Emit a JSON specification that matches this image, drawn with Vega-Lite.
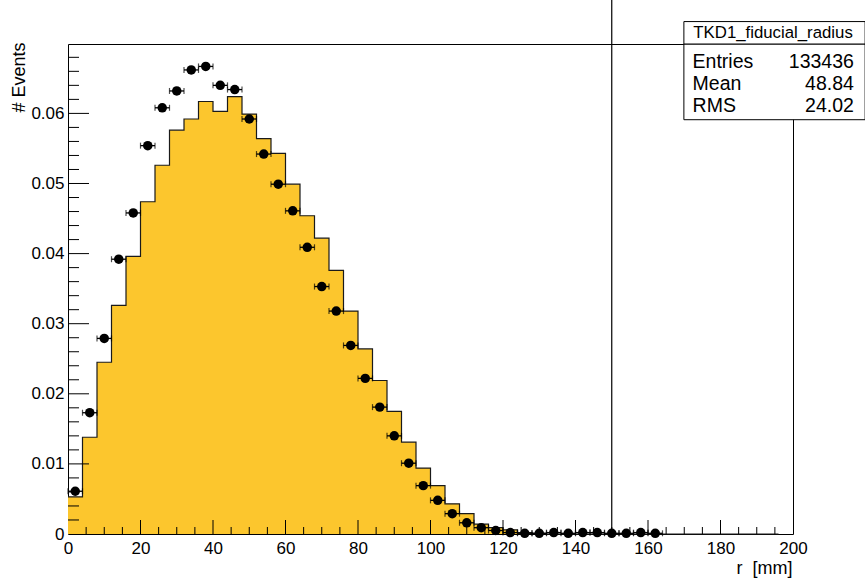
{
  "$schema": "https://vega.github.io/schema/vega-lite/v6.json",
  "width": 725,
  "height": 490,
  "autosize": {"type": "none"},
  "padding": {"left": 68, "top": 44, "right": 72, "bottom": 44},
  "background": "white",
  "config": {"view": {"stroke": "black", "strokeWidth": 1}, "font": "Liberation Sans"},
  "data": {"values": [
    {"lo": 0, "hi": 4, "r": 2, "mc": 0.0053, "data": 0.0061},
    {"lo": 4, "hi": 8, "r": 6, "mc": 0.0138, "data": 0.0173},
    {"lo": 8, "hi": 12, "r": 10, "mc": 0.0245, "data": 0.0279},
    {"lo": 12, "hi": 16, "r": 14, "mc": 0.0326, "data": 0.0392},
    {"lo": 16, "hi": 20, "r": 18, "mc": 0.0396, "data": 0.0458},
    {"lo": 20, "hi": 24, "r": 22, "mc": 0.0474, "data": 0.0554},
    {"lo": 24, "hi": 28, "r": 26, "mc": 0.0526, "data": 0.0608},
    {"lo": 28, "hi": 32, "r": 30, "mc": 0.0576, "data": 0.0632},
    {"lo": 32, "hi": 36, "r": 34, "mc": 0.0592, "data": 0.0662},
    {"lo": 36, "hi": 40, "r": 38, "mc": 0.0617, "data": 0.0667},
    {"lo": 40, "hi": 44, "r": 42, "mc": 0.0603, "data": 0.0640},
    {"lo": 44, "hi": 48, "r": 46, "mc": 0.0624, "data": 0.0634},
    {"lo": 48, "hi": 52, "r": 50, "mc": 0.0599, "data": 0.0592},
    {"lo": 52, "hi": 56, "r": 54, "mc": 0.0564, "data": 0.0542},
    {"lo": 56, "hi": 60, "r": 58, "mc": 0.0543, "data": 0.0499},
    {"lo": 60, "hi": 64, "r": 62, "mc": 0.0499, "data": 0.0461},
    {"lo": 64, "hi": 68, "r": 66, "mc": 0.0454, "data": 0.0409},
    {"lo": 68, "hi": 72, "r": 70, "mc": 0.0422, "data": 0.0353},
    {"lo": 72, "hi": 76, "r": 74, "mc": 0.0376, "data": 0.0318},
    {"lo": 76, "hi": 80, "r": 78, "mc": 0.0318, "data": 0.0269},
    {"lo": 80, "hi": 84, "r": 82, "mc": 0.0264, "data": 0.0222},
    {"lo": 84, "hi": 88, "r": 86, "mc": 0.0219, "data": 0.0181},
    {"lo": 88, "hi": 92, "r": 90, "mc": 0.0175, "data": 0.0140},
    {"lo": 92, "hi": 96, "r": 94, "mc": 0.0131, "data": 0.0101},
    {"lo": 96, "hi": 100, "r": 98, "mc": 0.0094, "data": 0.0069},
    {"lo": 100, "hi": 104, "r": 102, "mc": 0.0069, "data": 0.0048},
    {"lo": 104, "hi": 108, "r": 106, "mc": 0.0043, "data": 0.0029},
    {"lo": 108, "hi": 112, "r": 110, "mc": 0.0029, "data": 0.0016},
    {"lo": 112, "hi": 116, "r": 114, "mc": 0.0014, "data": 0.0009},
    {"lo": 116, "hi": 120, "r": 118, "mc": 0.0009, "data": 0.0005},
    {"lo": 120, "hi": 124, "r": 122, "mc": 0.0006, "data": 0.0002},
    {"lo": 124, "hi": 128, "r": 126, "mc": 0.0002, "data": 0.0001},
    {"lo": 128, "hi": 132, "r": 130, "mc": 0.0001, "data": 0.0001},
    {"lo": 132, "hi": 136, "r": 134, "mc": 0, "data": 0.0002},
    {"lo": 136, "hi": 140, "r": 138, "mc": 0, "data": 0.0001},
    {"lo": 140, "hi": 144, "r": 142, "mc": 0, "data": 0.0002},
    {"lo": 144, "hi": 148, "r": 146, "mc": 0, "data": 0.0002},
    {"lo": 148, "hi": 152, "r": 150, "mc": 0, "data": 0.0001},
    {"lo": 152, "hi": 156, "r": 154, "mc": 0, "data": 0.0001},
    {"lo": 156, "hi": 160, "r": 158, "mc": 0, "data": 0.0002},
    {"lo": 160, "hi": 164, "r": 162, "mc": 0, "data": 0.0001},
    {"lo": 164, "hi": 168, "r": 166, "mc": 0, "data": null},
    {"lo": 168, "hi": 172, "r": 170, "mc": 0, "data": null},
    {"lo": 172, "hi": 176, "r": 174, "mc": 0, "data": null},
    {"lo": 176, "hi": 180, "r": 178, "mc": 0, "data": null},
    {"lo": 180, "hi": 184, "r": 182, "mc": 0, "data": null},
    {"lo": 184, "hi": 188, "r": 186, "mc": 0, "data": null},
    {"lo": 188, "hi": 192, "r": 190, "mc": 0, "data": null},
    {"lo": 192, "hi": 196, "r": 194, "mc": 0, "data": null},
    {"lo": 196, "hi": 200, "r": 198, "mc": 0, "data": null}
  ]},
  "layer": [
    {
      "mark": {"type": "area", "interpolate": "step-after", "color": "#fcc62d", "opacity": 1},
      "encoding": {
        "x": {"field": "lo", "type": "quantitative",
              "scale": {"domain": [0, 200], "nice": false, "zero": false},
              "axis": {"orient": "bottom", "values": [0, 20, 40, 60, 80, 100, 120, 140, 160, 180, 200], "format": "d",
                       "domain": false, "ticks": false, "grid": false,
                       "labelPadding": 6, "labelFontSize": 17, "labelColor": "black", "labelFont": "Liberation Sans",
                       "labelFlush": false, "labelOverlap": false,
                       "title": "r\u00a0\u00a0[mm]", "titleFontSize": 18, "titleFontWeight": "normal", "titleColor": "black",
                       "titleFont": "Liberation Sans", "titleAnchor": "end", "titleX": 724, "titleY": 34,
                       "titleAlign": "right", "titleBaseline": "middle"}},
        "y": {"field": "mc", "type": "quantitative",
              "scale": {"domain": [0, 0.0699], "nice": false, "zero": true},
              "axis": {"orient": "left", "values": [0, 0.01, 0.02, 0.03, 0.04, 0.05, 0.06], "format": "~g",
                       "domain": false, "ticks": false, "grid": false,
                       "labelPadding": 4, "labelFontSize": 17, "labelColor": "black", "labelFont": "Liberation Sans",
                       "labelFlush": false, "labelOverlap": false,
                       "title": "# Events", "titleFontSize": 18, "titleFontWeight": "normal", "titleColor": "black",
                       "titleFont": "Liberation Sans", "titleAnchor": "end", "titleAngle": 270, "titleX": -49, "titleY": -2,
                       "titleAlign": "right", "titleBaseline": "middle"}}
      }
    },
    {
      "mark": {"type": "line", "interpolate": "step-after", "color": "#1a1a1a", "strokeWidth": 1.2},
      "encoding": {
        "x": {"field": "lo", "type": "quantitative", "axis": null},
        "y": {"field": "mc", "type": "quantitative", "axis": null}
      }
    },
    {
      "data": {"values": [{"t": 0.01}, {"t": 0.02}, {"t": 0.03}, {"t": 0.04}, {"t": 0.05}, {"t": 0.06}]},
      "mark": {"type": "rule", "color": "black", "strokeWidth": 1, "strokeDash": [21, 704], "strokeDashOffset": 21},
      "encoding": {
        "y": {"field": "t", "type": "quantitative", "axis": null}
      }
    },
    {
      "data": {"values": [{"t": 0.002}, {"t": 0.004}, {"t": 0.006}, {"t": 0.008}, {"t": 0.012}, {"t": 0.014}, {"t": 0.016}, {"t": 0.018}, {"t": 0.022}, {"t": 0.024}, {"t": 0.026}, {"t": 0.028}, {"t": 0.032}, {"t": 0.034}, {"t": 0.036}, {"t": 0.038}, {"t": 0.042}, {"t": 0.044}, {"t": 0.046}, {"t": 0.048}, {"t": 0.052}, {"t": 0.054}, {"t": 0.056}, {"t": 0.058}, {"t": 0.062}, {"t": 0.064}, {"t": 0.066}, {"t": 0.068}]},
      "mark": {"type": "rule", "color": "black", "strokeWidth": 1, "strokeDash": [11, 714], "strokeDashOffset": 11},
      "encoding": {
        "y": {"field": "t", "type": "quantitative", "axis": null}
      }
    },
    {
      "data": {"values": [{"t": 20}, {"t": 40}, {"t": 60}, {"t": 80}, {"t": 100}, {"t": 120}, {"t": 140}, {"t": 160}, {"t": 180}]},
      "mark": {"type": "rule", "color": "black", "strokeWidth": 1, "strokeDash": [14, 476], "strokeDashOffset": 14},
      "encoding": {
        "x": {"field": "t", "type": "quantitative", "axis": null}
      }
    },
    {
      "data": {"values": [{"t": 5}, {"t": 10}, {"t": 15}, {"t": 25}, {"t": 30}, {"t": 35}, {"t": 45}, {"t": 50}, {"t": 55}, {"t": 65}, {"t": 70}, {"t": 75}, {"t": 85}, {"t": 90}, {"t": 95}, {"t": 105}, {"t": 110}, {"t": 115}, {"t": 125}, {"t": 130}, {"t": 135}, {"t": 145}, {"t": 150}, {"t": 155}, {"t": 165}, {"t": 170}, {"t": 175}, {"t": 185}, {"t": 190}, {"t": 195}]},
      "mark": {"type": "rule", "color": "black", "strokeWidth": 1, "strokeDash": [7, 483], "strokeDashOffset": 7},
      "encoding": {
        "x": {"field": "t", "type": "quantitative", "axis": null}
      }
    },
    {
      "mark": {"type": "rule", "color": "black", "strokeWidth": 1.3},
      "encoding": {
        "x": {"field": "lo", "type": "quantitative", "axis": null},
        "x2": {"field": "hi"},
        "y": {"field": "data", "type": "quantitative", "axis": null}
      }
    },
    {
      "mark": {"type": "tick", "orient": "vertical", "color": "black", "size": 6, "thickness": 1.2},
      "encoding": {
        "x": {"field": "lo", "type": "quantitative", "axis": null},
        "y": {"field": "data", "type": "quantitative", "axis": null}
      }
    },
    {
      "mark": {"type": "tick", "orient": "vertical", "color": "black", "size": 6, "thickness": 1.2},
      "encoding": {
        "x": {"field": "hi", "type": "quantitative", "axis": null},
        "y": {"field": "data", "type": "quantitative", "axis": null}
      }
    },
    {
      "mark": {"type": "point", "filled": true, "shape": "circle", "color": "black", "size": 90, "opacity": 1},
      "encoding": {
        "x": {"field": "r", "type": "quantitative", "axis": null},
        "y": {"field": "data", "type": "quantitative", "axis": null}
      }
    },
    {
      "data": {"values": [{"cut": 150}]},
      "mark": {"type": "rule", "color": "black", "strokeWidth": 1.2},
      "encoding": {
        "x": {"field": "cut", "type": "quantitative", "axis": null},
        "y": {"datum": 0, "type": "quantitative", "axis": null},
        "y2": {"datum": 0.0763}
      }
    },
    {
      "data": {"values": [{}]},
      "mark": {"type": "rect", "fill": "white", "stroke": "black", "strokeWidth": 1},
      "encoding": {
        "x": {"datum": 169.9, "type": "quantitative", "axis": null},
        "x2": {"datum": 219.9},
        "y": {"datum": 0.0591, "type": "quantitative", "axis": null},
        "y2": {"datum": 0.0699}
      }
    },
    {
      "data": {"values": [{}]},
      "mark": {"type": "rect", "fill": "white", "stroke": "black", "strokeWidth": 1},
      "encoding": {
        "x": {"datum": 169.9, "type": "quantitative", "axis": null},
        "x2": {"datum": 219.9},
        "y": {"datum": 0.0699, "type": "quantitative", "axis": null},
        "y2": {"datum": 0.0731}
      }
    },
    {
      "data": {"values": [{}]},
      "mark": {"type": "text", "font": "Liberation Sans", "fontSize": 16.8, "color": "black", "align": "center", "baseline": "middle"},
      "encoding": {
        "x": {"datum": 194.5, "type": "quantitative", "axis": null},
        "y": {"datum": 0.07143, "type": "quantitative", "axis": null},
        "text": {"value": "TKD1_fiducial_radius"}
      }
    },
    {
      "data": {"values": [{}]},
      "mark": {"type": "text", "font": "Liberation Sans", "fontSize": 19.5, "color": "black", "align": "left", "baseline": "middle", "lineHeight": 22.3},
      "encoding": {
        "x": {"datum": 172.3, "type": "quantitative", "axis": null},
        "y": {"datum": 0.0674, "type": "quantitative", "axis": null},
        "text": {"value": ["Entries", "Mean", "RMS"]}
      }
    },
    {
      "data": {"values": [{}]},
      "mark": {"type": "text", "font": "Liberation Sans", "fontSize": 19.5, "color": "black", "align": "right", "baseline": "middle", "lineHeight": 22.3},
      "encoding": {
        "x": {"datum": 216.8, "type": "quantitative", "axis": null},
        "y": {"datum": 0.0674, "type": "quantitative", "axis": null},
        "text": {"value": ["133436", "48.84", "24.02"]}
      }
    }
  ],
  "resolve": {"axis": {"x": "independent", "y": "independent"}}
}
